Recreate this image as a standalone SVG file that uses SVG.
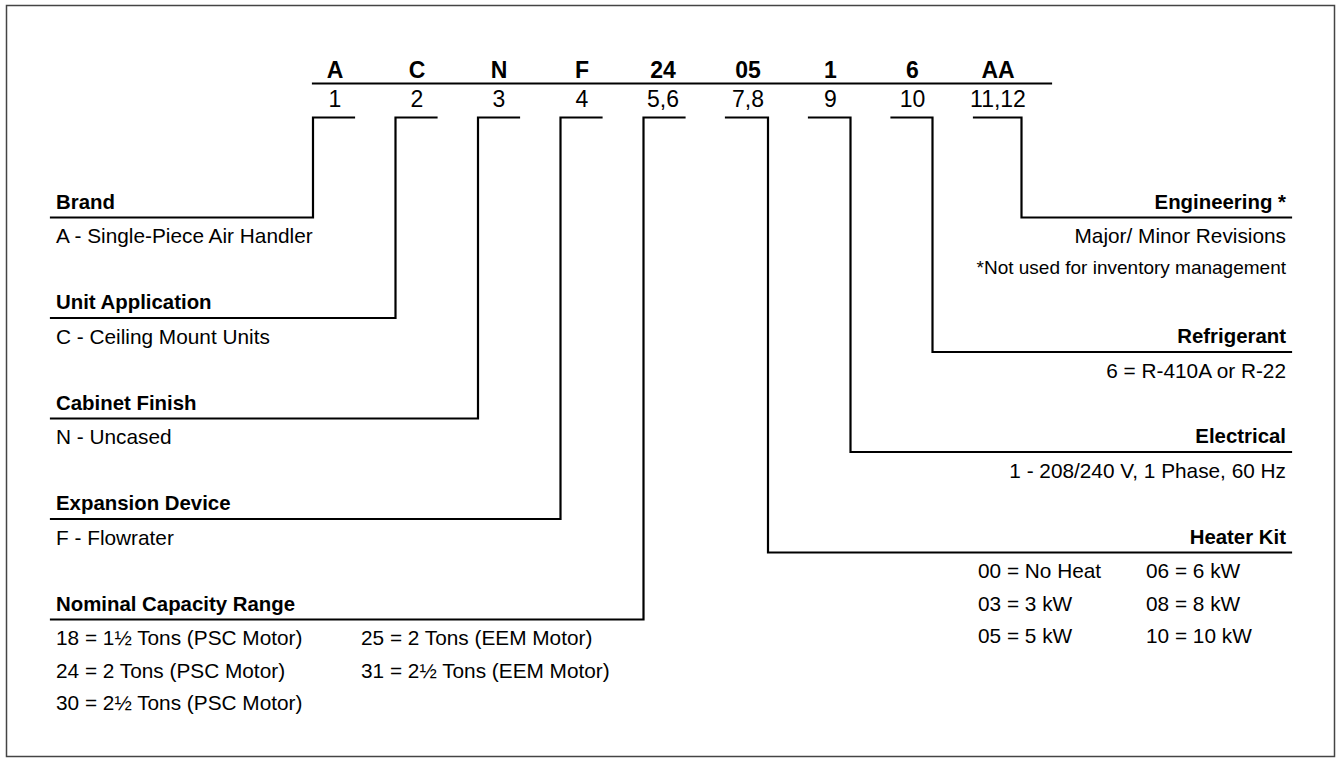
<svg xmlns="http://www.w3.org/2000/svg" width="1338" height="758" viewBox="0 0 1338 758">
<style>
text{font-family:"Liberation Sans",Arial,sans-serif;fill:#000}
.hd{font-size:23px;font-weight:bold;text-anchor:middle}
.pos{font-size:23px;text-anchor:middle}
.t{font-size:20.4px;font-weight:bold}
.d{font-size:20.8px}
.n{font-size:19px}
.r{text-anchor:end}
.ln{fill:none;stroke:#000;stroke-width:2.2;stroke-linejoin:miter;stroke-linecap:square}
</style>
<rect x="6.5" y="5.5" width="1328" height="751" fill="#fff" stroke="#444" stroke-width="1.5"/>
<g id="header">
<line class="ln" x1="313" y1="83.5" x2="1051" y2="83.5"/>
<text class="hd" x="335" y="78">A</text>
<text class="hd" x="417" y="78">C</text>
<text class="hd" x="499" y="78">N</text>
<text class="hd" x="582" y="78">F</text>
<text class="hd" x="663" y="78">24</text>
<text class="hd" x="748" y="78">05</text>
<text class="hd" x="830.5" y="78">1</text>
<text class="hd" x="912.5" y="78">6</text>
<text class="hd" x="998" y="78">AA</text>
<text class="pos" x="335" y="107">1</text>
<text class="pos" x="417" y="107">2</text>
<text class="pos" x="499" y="107">3</text>
<text class="pos" x="582" y="107">4</text>
<text class="pos" x="663" y="107">5,6</text>
<text class="pos" x="748" y="107">7,8</text>
<text class="pos" x="830.5" y="107">9</text>
<text class="pos" x="912.5" y="107">10</text>
<text class="pos" x="998" y="107">11,12</text>
</g>
<g id="connectors">
<polyline class="ln" points="354,117.5 313,117.5 313,217.5 51,217.5"/>
<polyline class="ln" points="436.5,117.5 395.5,117.5 395.5,318 51,318"/>
<polyline class="ln" points="519,117.5 478,117.5 478,418.5 51,418.5"/>
<polyline class="ln" points="601.5,117.5 560.5,117.5 560.5,519 51,519"/>
<polyline class="ln" points="684.5,117.5 643.5,117.5 643.5,619.5 51,619.5"/>
<polyline class="ln" points="726,117.5 768,117.5 768,552.5 1291,552.5"/>
<polyline class="ln" points="809,117.5 850.5,117.5 850.5,452 1291,452"/>
<polyline class="ln" points="891.5,117.5 932.5,117.5 932.5,352 1291,352"/>
<polyline class="ln" points="974,117.5 1021.5,117.5 1021.5,217.5 1291,217.5"/>
</g>
<g id="brand">
<text class="t" x="56" y="208.5">Brand</text>
<text class="d" x="56" y="243">A - Single-Piece Air Handler</text>
</g>
<g id="unit-application">
<text class="t" x="56" y="309">Unit Application</text>
<text class="d" x="56" y="343.5">C - Ceiling Mount Units</text>
</g>
<g id="cabinet-finish">
<text class="t" x="56" y="409.5">Cabinet Finish</text>
<text class="d" x="56" y="444">N - Uncased</text>
</g>
<g id="expansion-device">
<text class="t" x="56" y="510">Expansion Device</text>
<text class="d" x="56" y="544.5">F - Flowrater</text>
</g>
<g id="nominal-capacity">
<text class="t" x="56" y="610.5">Nominal Capacity Range</text>
<text class="d" x="56" y="645">18 = 1½ Tons (PSC Motor)</text>
<text class="d" x="56" y="677.5">24 = 2 Tons (PSC Motor)</text>
<text class="d" x="56" y="710">30 = 2½ Tons (PSC Motor)</text>
<text class="d" x="361" y="645">25 = 2 Tons (EEM Motor)</text>
<text class="d" x="361" y="677.5">31 = 2½ Tons (EEM Motor)</text>
</g>
<g id="engineering">
<text class="t r" x="1286" y="208.5">Engineering *</text>
<text class="d r" x="1286" y="243">Major/ Minor Revisions</text>
<text class="n r" x="1286" y="274">*Not used for inventory management</text>
</g>
<g id="refrigerant">
<text class="t r" x="1286" y="343">Refrigerant</text>
<text class="d r" x="1286" y="377.5">6 = R-410A or R-22</text>
</g>
<g id="electrical">
<text class="t r" x="1286" y="443">Electrical</text>
<text class="d r" x="1286" y="477.5">1 - 208/240 V, 1 Phase, 60 Hz</text>
</g>
<g id="heater-kit">
<text class="t r" x="1286" y="543.5">Heater Kit</text>
<text class="d" x="978" y="578">00 = No Heat</text>
<text class="d" x="978" y="610.5">03 = 3 kW</text>
<text class="d" x="978" y="643">05 = 5 kW</text>
<text class="d" x="1146" y="578">06 = 6 kW</text>
<text class="d" x="1146" y="610.5">08 = 8 kW</text>
<text class="d" x="1146" y="643">10 = 10 kW</text>
</g>
</svg>
